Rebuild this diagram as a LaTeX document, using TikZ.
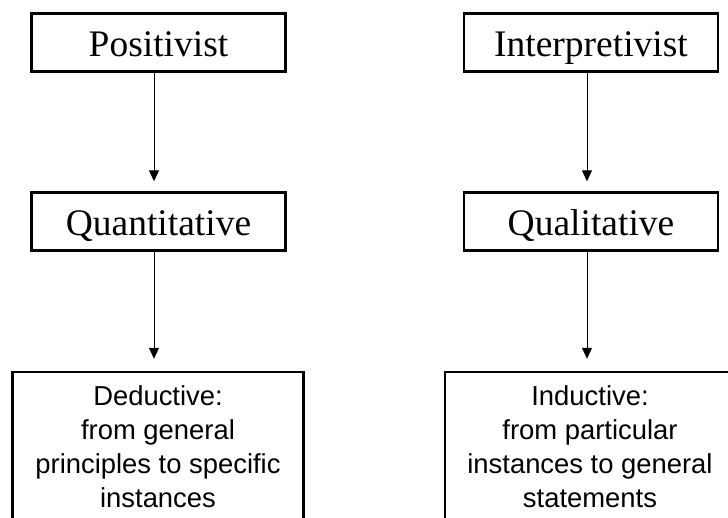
\documentclass[tikz,border=0pt]{standalone}
\usepackage{fontspec}
\setmainfont{Liberation Serif}
\setsansfont{Liberation Sans}
\usetikzlibrary{arrows.meta}
\begin{document}
\begin{tikzpicture}[x=1pt,y=-1pt,
  topbox/.style={draw, line width=2.4pt, minimum width=254pt, minimum height=58pt,
    inner sep=0pt, font=\fontsize{37.5}{40}\selectfont, text height=29pt, text depth=0pt},
  botbox/.style={draw, line width=2.4pt, inner sep=0pt, align=center,
    font=\sffamily\fontsize{27.4}{34}\selectfont},
  conn/.style={line width=1pt, -{Triangle[width=10pt,length=11pt]}}]
\useasboundingbox (0,0) rectangle (728,518);
\clip (0,0) rectangle (728,518);
\node[topbox] (pos) at (158.5,42.5) {Positivist};
\node[topbox] (int) at (591,42.5) {Interpretivist};
\node[topbox] (quan) at (158.5,221.5) {Quantitative};
\node[topbox] (qual) at (591,221.5) {Qualitative};
\node[botbox, minimum width=291pt, minimum height=150pt] (ded) at (158,447)
  {Deductive:\\from general\\principles to specific\\instances};
\node[botbox, minimum width=290pt, minimum height=150pt] (ind) at (590,447)
  {Inductive:\\from particular\\instances to general\\statements};
\draw[conn] ([xshift=-4.5pt]pos.south) -- ([xshift=-4.5pt,yshift=10pt]quan.north);
\draw[conn] ([xshift=-4pt]int.south) -- ([xshift=-4pt,yshift=10pt]qual.north);
\draw[conn] ([xshift=-4.5pt]quan.south) -- ([xshift=-4pt,yshift=12pt]ded.north);
\draw[conn] ([xshift=-4pt]qual.south) -- ([xshift=-3pt,yshift=12pt]ind.north);
\end{tikzpicture}
\end{document}
